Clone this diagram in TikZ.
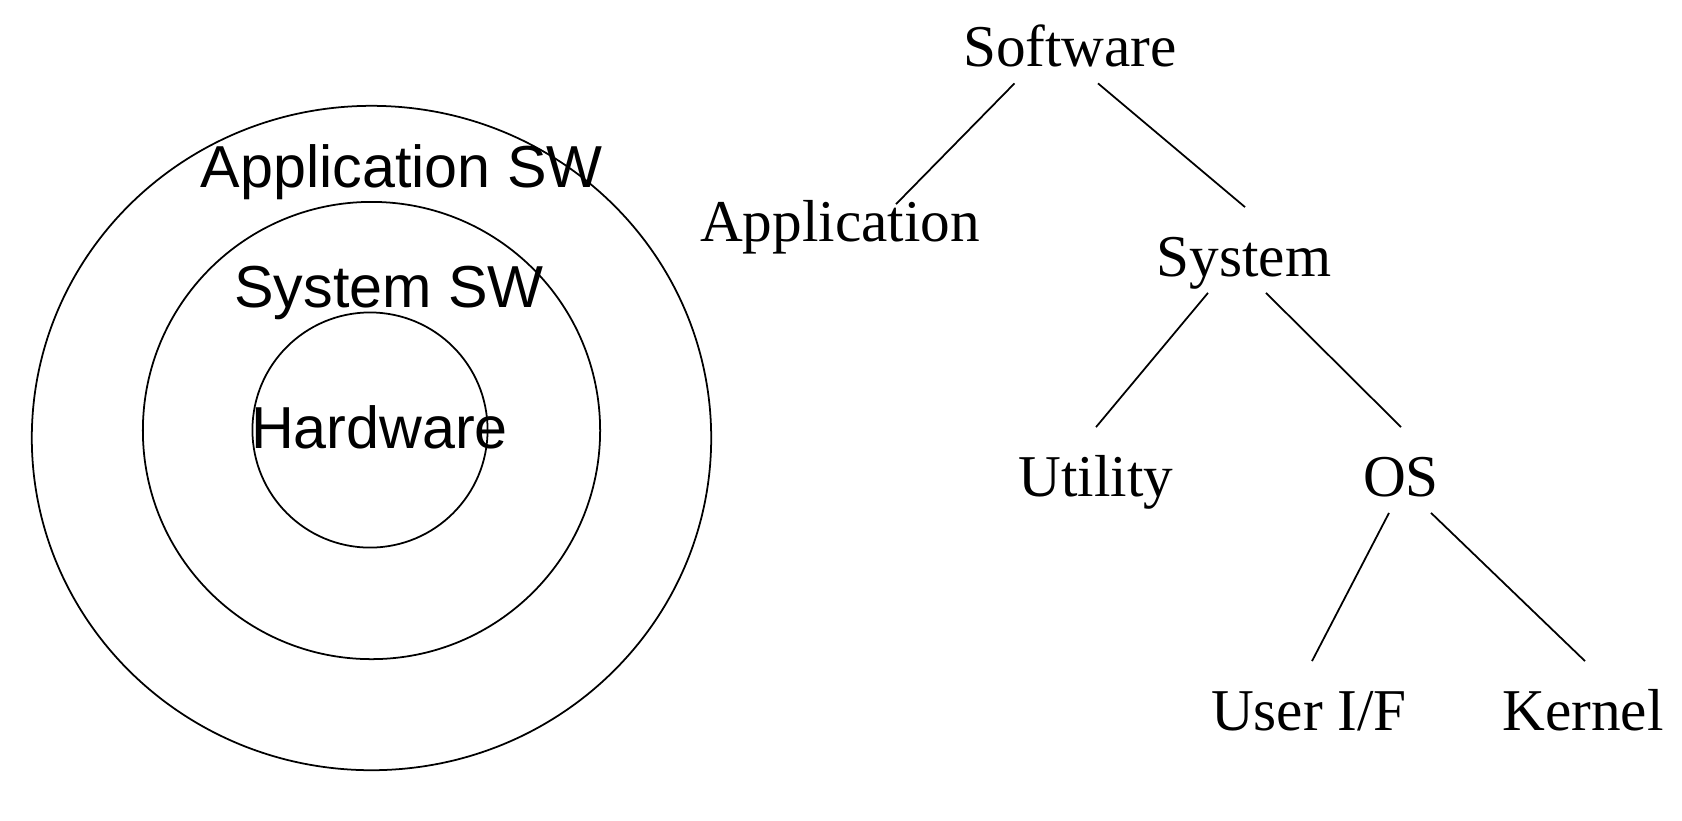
\documentclass[tikz,border=0pt]{standalone}
\usepackage{fontspec}
\setmainfont{Liberation Serif}
\setsansfont{Liberation Sans}
\usepackage{tikz}
\usetikzlibrary{positioning}

\begin{document}
\begin{tikzpicture}[x=0.01cm, y=-0.01cm, line width=0.5pt,
    ringtext/.style={font=\sffamily\fontsize{16.85}{20}\selectfont, inner sep=0, anchor=base},
    treetext/.style={font=\fontsize{16.85}{20}\selectfont, inner sep=0, anchor=base,
      text height=0.68cm, text depth=0.16cm}]
    \useasboundingbox (0,0) rectangle (1682,820);

    % Layers
    \draw (371.5,438) ellipse [x radius=3.395cm, y radius=3.32cm];
    \draw (371.5,430.5) circle (2.285cm);
    \draw (370,430) circle (1.175cm);

    \node[ringtext] (appsw) at (401.7,187) {Application SW};
    \node[ringtext] (syssw) at (389,307) {System SW};
    \node[ringtext] (hardware) at (379.5,448) {Hardware};

    % Tree
    \node[treetext] (software) at (1070,66.5) {Software};
    \node[treetext] (application) at (840,241) {Application};
    \node[treetext] (system) at (1244,276) {System};
    \node[treetext] (utility) at (1096,496) {Utility};
    \node[treetext] (os) at (1401,496) {OS};
    \node[treetext] (userif) at (1309,730) {User I/F};
    \node[treetext] (kernel) at (1583,730) {Kernel};

    \draw ([xshift=-0.555cm]software.south) -- ([xshift=0.56cm, yshift=-0.32cm]application.north);
    \draw ([xshift=0.28cm]software.south) -- ([xshift=0.01cm]system.north);
    \draw ([xshift=-0.36cm]system.south) -- (utility.north);
    \draw ([xshift=0.22cm]system.south) -- (os.north);
    \draw ([xshift=-0.12cm]os.south) -- ([xshift=0.03cm]userif.north);
    \draw ([xshift=0.30cm]os.south) -- ([xshift=0.02cm]kernel.north);
\end{tikzpicture}
\end{document}
